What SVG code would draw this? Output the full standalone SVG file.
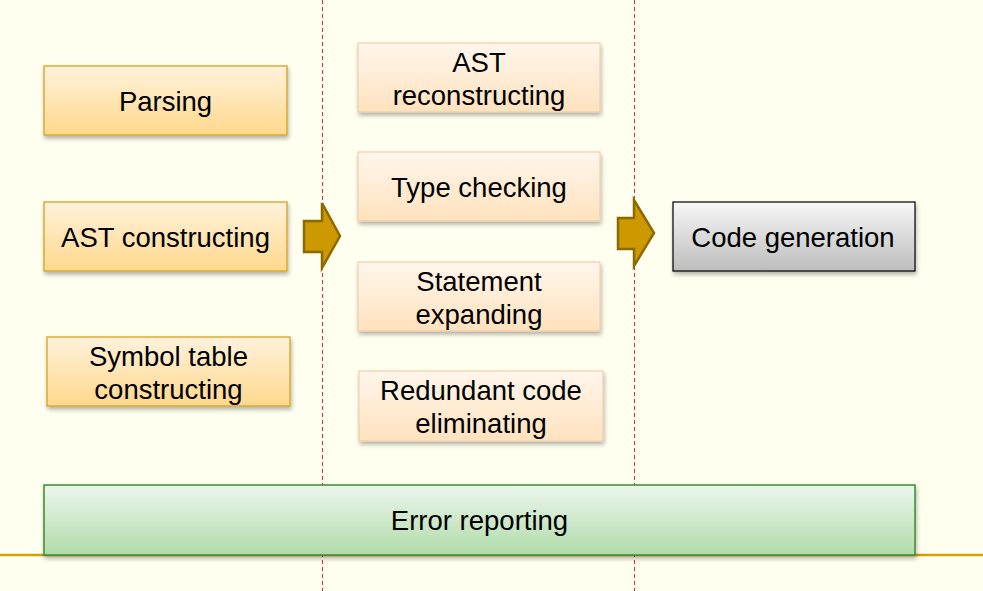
<svg xmlns="http://www.w3.org/2000/svg" width="983" height="591" viewBox="0 0 983 591">
<defs>
<linearGradient id="gOrange" x1="0" y1="0" x2="0" y2="1"><stop offset="0" stop-color="#FFF2DC"/><stop offset="1" stop-color="#FFD88C"/></linearGradient>
<linearGradient id="gPeach" x1="0" y1="0" x2="0" y2="1"><stop offset="0" stop-color="#FFF6EC"/><stop offset="1" stop-color="#FFE2BE"/></linearGradient>
<linearGradient id="gGray" x1="0" y1="0" x2="0" y2="1"><stop offset="0" stop-color="#F7F7F7"/><stop offset="1" stop-color="#BDBDBD"/></linearGradient>
<linearGradient id="gGreen" x1="0" y1="0" x2="0" y2="1"><stop offset="0" stop-color="#ECF6EE"/><stop offset="1" stop-color="#B0DBA8"/></linearGradient>
<filter id="sh" x="-10%" y="-10%" width="130%" height="140%"><feDropShadow dx="1" dy="3" stdDeviation="2" flood-color="#000" flood-opacity="0.3"/></filter>
</defs>
<style>
text{font-family:"Liberation Sans",Arial,sans-serif;font-size:27.5px;fill:#000;text-anchor:middle}
.o{fill:url(#gOrange);stroke:#D6A21E;stroke-width:1.3;filter:url(#sh)}
.p{fill:url(#gPeach);stroke:#EDC8A0;stroke-width:1;filter:url(#sh)}
.g{fill:url(#gGray);stroke:#000;stroke-width:1.2;filter:url(#sh)}
.e{fill:url(#gGreen);stroke:#3B8C2E;stroke-width:1.5;filter:url(#sh)}
.dash{stroke:#E8282A;stroke-width:1;stroke-dasharray:4 3}
.arr{fill:#CC9900;stroke:#8C6A00;stroke-width:2.5;stroke-linejoin:miter}
</style>
<rect width="983" height="591" fill="#FFFFF0"/>
<line x1="0" y1="555" x2="983" y2="555" stroke="#D4A000" stroke-width="2.5"/>
<g id="separators">
<line class="dash" x1="322.5" y1="0" x2="322.5" y2="591"/>
<line class="dash" x1="634.5" y1="0" x2="634.5" y2="591"/>
</g>
<g id="parsing"><rect class="o" x="44" y="66" width="243" height="69"/><text x="165.5" y="111">Parsing</text></g>
<g id="ast-constructing"><rect class="o" x="44" y="202" width="243" height="69"/><text x="165.5" y="247">AST constructing</text></g>
<g id="symbol-table"><rect class="o" x="47" y="337" width="243" height="69"/><text x="168.5" y="366">Symbol table</text><text x="168.5" y="399">constructing</text></g>
<g id="ast-reconstructing"><rect class="p" x="358" y="43" width="242" height="69"/><text x="479" y="72">AST</text><text x="479" y="105">reconstructing</text></g>
<g id="type-checking"><rect class="p" x="358" y="152" width="242" height="69"/><text x="479" y="197">Type checking</text></g>
<g id="statement-expanding"><rect class="p" x="358" y="262" width="242" height="69"/><text x="479" y="291">Statement</text><text x="479" y="324">expanding</text></g>
<g id="redundant-code"><rect class="p" x="359" y="371" width="244" height="70"/><text x="481" y="400">Redundant code</text><text x="481" y="433">eliminating</text></g>
<g id="code-generation"><rect class="g" x="673" y="202" width="242" height="69"/><text x="793" y="247">Code generation</text></g>
<g id="error-reporting"><rect class="e" x="44" y="485" width="871" height="70"/><text x="479.5" y="530">Error reporting</text></g>
<g id="connectors">
<polygon class="arr" points="304,221 322,221 322,203 340,236 322,268 322,252 304,252"/>
<polygon class="arr" points="618,218 634,218 634,200 654,233 634,266 634,249 618,249"/>
</g>
</svg>
